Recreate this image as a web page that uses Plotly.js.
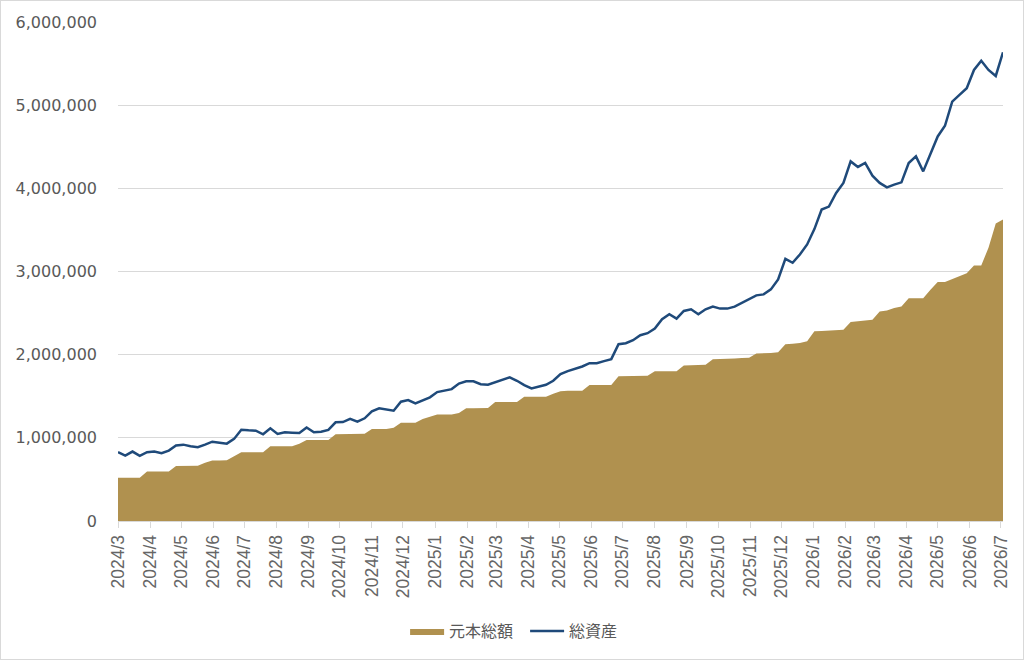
<!DOCTYPE html>
<html>
<head>
<meta charset="utf-8">
<script src="https://cdn.plot.ly/plotly-3.0.1.min.js"></script>
<style>
  html, body { margin: 0; padding: 0; background: #fff; }
  #chart { width: 1022px; height: 658px; border: 1px solid #d9d9d9; }
</style>
</head>
<body>
<div id="chart"></div>
<script>
// weekly points, first one on 2024/3/1
var start_date = '2024-03-01';

// 元本総額 (principal), yen
var principal = [
  520000, 520000, 520000, 520000, 595000, 595000, 595000, 595000, 660000, 660000,
  660000, 665000, 700000, 728000, 728000, 730000, 780000, 827000, 827000, 827000,
  827000, 899000, 899000, 899000, 899000, 930000, 975000, 975000, 975000, 975000,
  1043000, 1043000, 1043000, 1043000, 1050000, 1107000, 1107000, 1107000, 1120000, 1180000,
  1180000, 1180000, 1227000, 1254000, 1280000, 1280000, 1280000, 1300000, 1355000, 1355000,
  1355000, 1360000, 1430000, 1430000, 1430000, 1430000, 1494000, 1494000, 1494000, 1494000,
  1530000, 1559000, 1565000, 1565000, 1565000, 1634000, 1634000, 1634000, 1634000, 1739000,
  1739000, 1739000, 1739000, 1745000, 1802000, 1802000, 1802000, 1802000, 1870000, 1870000,
  1875000, 1878000, 1946000, 1946000, 1950000, 1955000, 1960000, 1962000, 2014000, 2014000,
  2020000, 2030000, 2126000, 2130000, 2140000, 2160000, 2282000, 2285000, 2290000, 2295000,
  2300000, 2393000, 2400000, 2410000, 2420000, 2518000, 2530000, 2560000, 2580000, 2678000,
  2678000, 2678000, 2780000, 2873000, 2873000, 2910000, 2950000, 2980000, 3073000, 3073000,
  3285000, 3577000, 3626000
];

// 総資産 (total assets), yen
var total_assets = [
  827000, 787000, 835000, 783000, 827000, 835000, 815000, 847000, 907000, 918000,
  899000, 887000, 918000, 954000, 942000, 930000, 987000, 1098000, 1091000, 1086000,
  1043000, 1115000, 1047000, 1067000, 1062000, 1057000, 1125000, 1067000, 1074000, 1095000,
  1187000, 1190000, 1227000, 1194000, 1235000, 1319000, 1355000, 1343000, 1326000, 1434000,
  1454000, 1413000, 1446000, 1487000, 1550000, 1564000, 1586000, 1652000, 1679000, 1680000,
  1645000, 1638000, 1667000, 1698000, 1727000, 1686000, 1634000, 1595000, 1619000, 1638000,
  1686000, 1766000, 1802000, 1826000, 1858000, 1898000, 1898000, 1922000, 1946000, 2126000,
  2138000, 2174000, 2234000, 2258000, 2314000, 2426000, 2486000, 2434000, 2525000, 2546000,
  2486000, 2546000, 2578000, 2554000, 2554000, 2578000, 2626000, 2666000, 2713000, 2725000,
  2785000, 2905000, 3153000, 3105000, 3205000, 3325000, 3510000, 3745000, 3780000, 3945000,
  4065000, 4324000, 4257000, 4305000, 4152000, 4065000, 4012000, 4044000, 4072000, 4305000,
  4384000, 4204000, 4424000, 4624000, 4752000, 5043000, 5124000, 5204000, 5423000, 5535000,
  5423000, 5351000, 5636000
];

var y_ticks = [0, 1000000, 2000000, 3000000, 4000000, 5000000, 6000000];

// build the weekly dates
var weeks = [];
var d0 = new Date(start_date + 'T00:00:00Z');
for (var i = 0; i < principal.length; i++) {
  var d = new Date(d0.getTime() + i * 7 * 86400000);
  weeks.push(d.toISOString().slice(0, 10));
}

var principal_trace = {
  x: weeks,
  y: principal,
  name: '元本総額',
  type: 'scatter',
  mode: 'lines',
  fill: 'tozeroy',
  fillcolor: '#b0914f',
  line: {color: '#b0914f', width: 0}
};

var assets_trace = {
  x: weeks,
  y: total_assets,
  name: '総資産',
  type: 'scatter',
  mode: 'lines',
  line: {color: '#1f4a7a', width: 2.5}
};

var layout = {
  width: 1022,
  height: 658,
  margin: {l: 117, r: 20, t: 21, b: 137},
  paper_bgcolor: '#fff',
  plot_bgcolor: '#fff',
  showlegend: true,
  legend: {
    orientation: 'h',
    x: 0.46, xanchor: 'center',
    y: -0.218, yanchor: 'middle',
    itemwidth: 34,
    entrywidth: 71,
    font: {family: '"Noto Sans CJK JP", sans-serif', size: 16, color: '#595959'}
  },
  xaxis: {
    type: 'date',
    range: [weeks[0], weeks[weeks.length - 1]],
    tick0: start_date,
    dtick: 'M1',
    tickformat: '%Y/%-m',
    tickangle: -90,
    ticks: 'outside',
    ticklen: 6,
    tickcolor: '#d9d9d9',
    showline: true,
    linecolor: '#d9d9d9',
    linewidth: 1,
    showgrid: false,
    zeroline: false,
    automargin: false,
    tickfont: {family: '"Liberation Sans", Arial, sans-serif', size: 17.5, color: '#666'}
  },
  yaxis: {
    range: [0, 6000000],
    tickvals: y_ticks,
    tickformat: ',d',
    showgrid: true,
    gridcolor: '#d9d9d9',
    gridwidth: 1,
    showline: false,
    zeroline: false,
    ticks: '',
    ticklabelstandoff: 20,
    automargin: false,
    tickfont: {family: '"DejaVu Sans", Verdana, sans-serif', size: 16, color: '#595959'}
  }
};

Plotly.newPlot('chart', [principal_trace, assets_trace], layout, {displayModeBar: false, staticPlot: true});
</script>
</body>
</html>
